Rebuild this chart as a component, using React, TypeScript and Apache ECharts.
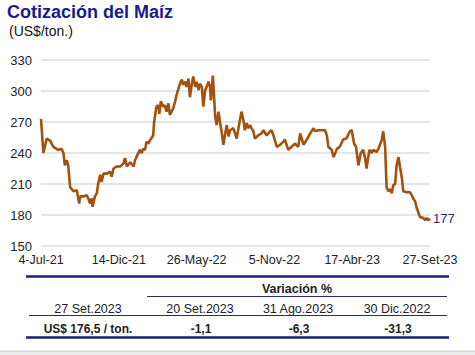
import React, { useEffect, useRef } from "react";
import * as echarts from "echarts";

// Day offsets from 4-Jul-2021 and corn price (US$/ton.)
const days = [
  0, 5, 12, 19, 26, 36, 43, 47, 50, 54, 57, 61, 68, 75, 80, 82, 89, 96, 99, 103, 106, 108, 113, 117, 120, 124, 127, 131, 138, 145, 148, 152, 159, 166, 173, 176, 180, 187, 194, 197, 200, 207, 211, 214, 218, 221, 225, 228, 235, 237, 242, 246, 248, 251, 256, 260, 263, 267, 270, 277, 281, 284, 291, 295, 298, 302, 305, 309, 312, 316, 319, 323, 326, 330, 333, 337, 340, 344, 347, 351, 354, 356, 360, 365, 368, 372, 375, 379, 382, 389, 393, 396, 403, 410, 416, 420, 424, 427, 431, 434, 438, 441, 445, 448, 455, 462, 466, 473, 480, 483, 487, 494, 501, 508, 511, 518, 525, 532, 539, 543, 550, 557, 564, 571, 574, 581, 588, 595, 599, 602, 609, 613, 620, 626, 633, 640, 647, 651, 656, 660, 665, 670, 675, 679, 682, 688, 693, 696, 703, 707, 714, 717, 721, 724, 728, 731, 735, 738, 742, 745, 749, 752, 756, 759, 766, 773, 777, 780, 784, 787, 791, 794, 801, 805, 808, 812, 815
];
const prices = [
  273, 240, 254, 252, 246, 243, 244, 240, 228, 233, 228, 207, 203, 204, 191, 198, 198, 199, 196, 191, 196, 188, 198, 201, 211, 219, 212, 220, 220, 222, 217, 225, 227, 227, 230, 235, 227, 231, 227, 233, 236, 243, 240, 244, 243, 251, 249, 252, 257, 270, 285, 286, 278, 290, 285, 286, 280, 288, 277, 283, 290, 296, 307, 311, 306, 309, 304, 312, 294, 307, 314, 304, 309, 301, 307, 304, 285, 301, 304, 309, 304, 291, 315, 275, 267, 280, 270, 259, 248, 267, 256, 262, 264, 254, 270, 280, 272, 262, 269, 264, 267, 264, 261, 254, 257, 259, 262, 257, 261, 262, 257, 246, 248, 251, 253, 243, 246, 249, 246, 259, 248, 253, 259, 264, 261, 262, 262, 262, 257, 246, 243, 236, 244, 246, 253, 254, 261, 262, 249, 246, 228, 240, 243, 235, 225, 243, 240, 243, 241, 244, 253, 261, 246, 207, 203, 205, 201, 209, 210, 228, 236, 227, 216, 203, 202, 202, 199, 196, 193, 187, 182, 178, 177, 175, 177, 175, 176.5
];

const xTickLabels = ["4-Jul-21", "14-Dic-21", "26-May-22", "5-Nov-22", "17-Abr-23", "27-Set-23"];
const xTickStep = 163;

const tableHeader = "Variación %";
const dateCols = ["27 Set.2023", "20 Set.2023", "31 Ago.2023", "30 Dic.2022"];
const valueCols = ["US$ 176,5 / ton.", "-1,1", "-6,3", "-31,3"];

const NAVY = "#1c1c80";
const FONT = "Liberation Sans, Arial, sans-serif";

export default function App() {
  const ref = useRef<HTMLDivElement>(null);
  useEffect(() => {
    if (!ref.current) return;
    const chart = echarts.init(ref.current, null, { renderer: "svg" });
    const colX = [88, 200, 298, 397];
    const txt = (text: string, x: number, y: number, size: number, weight: string, color: string, align = "center") => ({
      type: "text",
      x,
      y,
      style: {
        text,
        fill: color,
        font: `${weight} ${size}px ${FONT}`,
        align,
        verticalAlign: "middle",
        textAlign: align,
        textVerticalAlign: "middle",
      },
    });
    const hline = (x1: number, x2: number, y: number, w: number, color: string) => ({
      type: "line",
      shape: { x1, y1: y, x2, y2: y },
      style: { stroke: color, lineWidth: w },
    });
    chart.setOption({
      animation: false,
      backgroundColor: "#ffffff",
      grid: { left: 41, right: 45, top: 60, bottom: 109, containLabel: false },
      xAxis: {
        type: "value",
        min: 0,
        max: 815,
        interval: xTickStep,
        axisLine: { show: false },
        axisTick: { show: false },
        splitLine: { show: false },
        axisLabel: {
          margin: 7,
          fontSize: 12.5,
          color: "#222",
          fontFamily: FONT,
          formatter: (v: number) => xTickLabels[Math.round(v / xTickStep)] ?? "",
        },
      },
      yAxis: {
        type: "value",
        min: 150,
        max: 330,
        interval: 30,
        axisLine: { show: false },
        axisTick: { show: false },
        axisLabel: { margin: 9, fontSize: 13, color: "#222", fontFamily: FONT },
        splitLine: { lineStyle: { color: "#dcdcdc", width: 1.5 } },
      },
      series: [
        {
          type: "line",
          data: days.map((d, i) => [d, prices[i]]),
          showSymbol: false,
          symbol: "none",
          lineStyle: { color: "#a2520f", width: 2.6 },
          endLabel: {
            show: true,
            distance: 3,
            formatter: (p: any) => String(Math.round(p.value[1])),
            color: "#26267a",
            fontSize: 13,
            fontFamily: FONT,
          },
        },
      ],
      graphic: [
        txt("Cotización del Maíz", 7, 12, 18, "bold", "#1a1a8c", "left"),
        txt("(US$/ton.)", 9, 31, 14, "normal", "#111", "left"),
        hline(26, 449, 276.5, 2.6, NAVY),
        txt(tableHeader, 297, 288.5, 12.5, "bold", "#222"),
        hline(147, 447, 296.5, 1.2, "#2a2a70"),
        ...dateCols.map((t, i) => txt(t, colX[i], 308.5, 12.5, "normal", "#222")),
        hline(29, 447, 315.5, 1.2, "#2a2a70"),
        ...valueCols.map((t, i) => txt(t, colX[i] + (i === 0 ? 0 : 1), 329, 12, "bold", "#222")),
        hline(26, 449, 337.5, 2.6, NAVY),
        { type: "rect", shape: { x: 0, y: 351, width: 475, height: 4 }, style: { fill: "#ececec" } },
        hline(0, 475, 351, 1, "#c9c9c9"),
      ],
    });
    return () => chart.dispose();
  }, []);
  return (
    <div
      ref={ref}
      style={{ position: "fixed", left: 0, top: 0, width: 475, height: 355, background: "#fff" }}
    />
  );
}
